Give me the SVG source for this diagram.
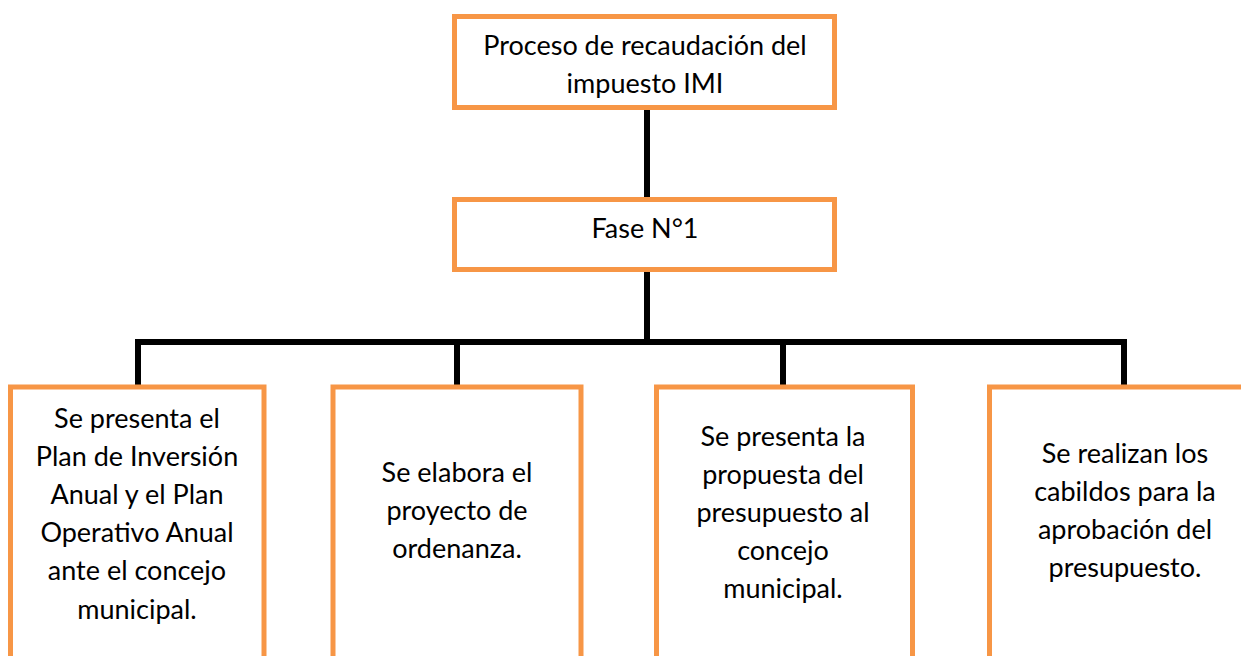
<svg xmlns="http://www.w3.org/2000/svg" width="1241" height="656" viewBox="0 0 1241 656">
<style>
.box{fill:#fff;stroke:#F79646;stroke-width:5}
.lbl{font-family:Lato,"Liberation Sans",sans-serif;font-size:27px;fill:#000;text-anchor:middle}
.con{stroke:#000;stroke-width:6;fill:none}
</style>
<rect width="1241" height="656" fill="#fff"/>
<g id="connectors">
<line class="con" x1="647" y1="110" x2="647" y2="197"/>
<line class="con" x1="647" y1="272" x2="647" y2="342"/>
<polyline class="con" points="138,387 138,342 1124,342 1124,387"/>
<line class="con" x1="457" y1="342" x2="457" y2="387"/>
<line class="con" x1="783" y1="342" x2="783" y2="387"/>
</g>
<g id="node-root">
<rect class="box" x="454.5" y="16.5" width="380" height="91"/>
<text class="lbl" x="645" y="55">Proceso de recaudación del</text>
<text class="lbl" x="645" y="93">impuesto IMI</text>
</g>
<g id="node-fase">
<rect class="box" x="454.5" y="199.5" width="380" height="70"/>
<text class="lbl" x="645" y="238">Fase N°1</text>
</g>
<g id="node-1">
<rect class="box" x="10.5" y="387" width="253.5" height="300"/>
<text class="lbl" x="137" y="428">Se presenta el</text>
<text class="lbl" x="137" y="466">Plan de Inversión</text>
<text class="lbl" x="137" y="504">Anual y el Plan</text>
<text class="lbl" x="137" y="542">Operativo Anual</text>
<text class="lbl" x="137" y="580">ante el concejo</text>
<text class="lbl" x="137" y="619">municipal.</text>
</g>
<g id="node-2">
<rect class="box" x="333" y="387" width="248" height="300"/>
<text class="lbl" x="457" y="482">Se elabora el</text>
<text class="lbl" x="457" y="520">proyecto de</text>
<text class="lbl" x="457" y="558">ordenanza.</text>
</g>
<g id="node-3">
<rect class="box" x="656.5" y="387" width="256" height="300"/>
<text class="lbl" x="783" y="446">Se presenta la</text>
<text class="lbl" x="783" y="484">propuesta del</text>
<text class="lbl" x="783" y="522">presupuesto al</text>
<text class="lbl" x="783" y="560">concejo</text>
<text class="lbl" x="783" y="598">municipal.</text>
</g>
<g id="node-4">
<rect class="box" x="989.5" y="387" width="300" height="300"/>
<text class="lbl" x="1125" y="463">Se realizan los</text>
<text class="lbl" x="1125" y="501">cabildos para la</text>
<text class="lbl" x="1125" y="539">aprobación del</text>
<text class="lbl" x="1125" y="577">presupuesto.</text>
</g>
</svg>
